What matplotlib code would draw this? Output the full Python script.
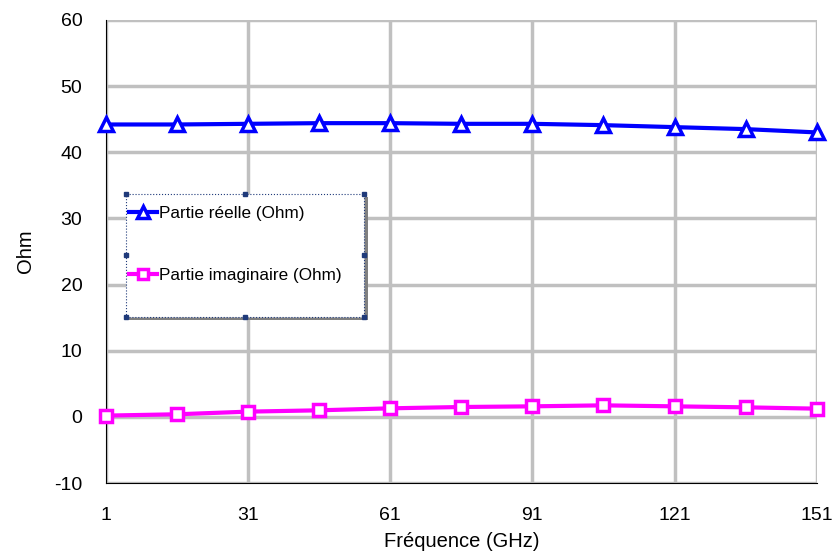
import numpy as np
import matplotlib.pyplot as plt
from matplotlib.patches import Rectangle

plt.rcParams['font.family'] = ['Liberation Sans', 'DejaVu Sans']
plt.rcParams['axes.unicode_minus'] = False

freq = [1, 16, 31, 46, 61, 76, 91, 106, 121, 136, 151]
reelle = [44.2, 44.2, 44.3, 44.4, 44.4, 44.3, 44.3, 44.1, 43.8, 43.5, 43.0]
imaginaire = [0.2, 0.4, 0.8, 1.0, 1.3, 1.5, 1.6, 1.75, 1.6, 1.45, 1.25]

fig = plt.figure(figsize=(8.35, 5.54), dpi=100)
ax = fig.add_axes([0.127, 0.128, 0.851, 0.836])

ax.plot(freq, reelle, color='#0000ff', lw=3, marker='^', ms=10,
        mfc='white', mec='#0000ff', mew=2.5, label='Partie réelle (Ohm)', clip_on=False, zorder=4)
ax.plot(freq, imaginaire, color='#ff00ff', lw=3, marker='s', ms=9,
        mfc='white', mec='#ff00ff', mew=2.5, label='Partie imaginaire (Ohm)', clip_on=False, zorder=4)

ax.set_xlim(1, 151)
ax.set_ylim(-10, 60)
ax.set_xticks(np.arange(1, 152, 30))
ax.set_yticks(np.arange(-10, 61, 10))
ax.grid(True, color='#c0c0c0', lw=2.5)
ax.set_axisbelow(True)
for s in ['top', 'right']:
    ax.spines[s].set_visible(False)
ax.tick_params(length=0, labelsize=14)
ax.tick_params(axis='x', pad=17)
ax.tick_params(axis='y', pad=17)

ax.set_xlabel('Fréquence (GHz)', fontsize=14.5, labelpad=6)
ax.set_ylabel('Ohm', fontsize=14.5, labelpad=14)

# legend box (Excel style, selected frame with shadow)
lx, ly, lw_, lh = 0.028, 0.359, 0.335, 0.266
ax.add_patch(Rectangle((lx + 0.005, ly - 0.007), lw_, lh, transform=ax.transAxes,
                       facecolor='#808080', edgecolor='none', zorder=5))
ax.add_patch(Rectangle((lx, ly), lw_, lh, transform=ax.transAxes,
                       facecolor='white', edgecolor='#1f3a7a', lw=0.8, ls=':', zorder=6))
for hx in [lx, lx + lw_ / 2, lx + lw_]:
    for hy in [ly, ly + lh / 2, ly + lh]:
        if hx == lx + lw_ / 2 and hy == ly + lh / 2:
            continue
        ax.plot(hx, hy, marker='s', ms=3, color='#1f3a7a', transform=ax.transAxes,
                zorder=7, clip_on=False)

leg = ax.legend(loc='upper left', bbox_to_anchor=(lx, ly + lh - 0.02),
                fontsize=12.3, frameon=False, handlelength=1.6, handletextpad=0.15,
                borderaxespad=0, labelspacing=2.75, borderpad=0.2, markerscale=0.8)
leg.set_zorder(8)

fig.savefig('out.png', dpi=100)
